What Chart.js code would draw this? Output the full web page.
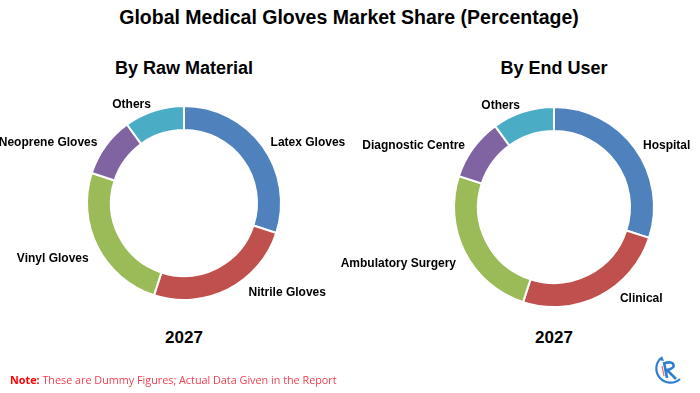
<!DOCTYPE html>
<html>
<head>
<meta charset="utf-8">
<script src="https://cdn.jsdelivr.net/npm/chart.js@4"></script>
<style>
  body { margin: 0; width: 700px; height: 393px; overflow: hidden; background: #fff; position: relative; font-family: "Liberation Sans", Arial, sans-serif; }
  .txt { position: absolute; font-weight: bold; color: #000; white-space: nowrap; transform: translate(-50%, -50%); font-size: 17px; }
  canvas { position: absolute; left: 0; top: 0; }
  #note { position: absolute; left: 10px; top: 372px; font-family: "Open Sans", sans-serif; font-size: 10.8px; color: #f0404f; white-space: nowrap; }
  #note b { color: #ff0000; }
  #logo { position: absolute; left: 650px; top: 352px; }
</style>
</head>
<body>
<div class="txt" style="left:349px; top:17px; font-size:19.5px;">Global Medical Gloves Market Share (Percentage)</div>
<div class="txt" style="left:184px; top:68px; font-size:18px;">By Raw Material</div>
<div class="txt" style="left:554px; top:68px; font-size:18px;">By End User</div>
<div class="txt" style="left:184px; top:338px;">2027</div>
<div class="txt" style="left:554px; top:338px;">2027</div>

<canvas id="chartMaterial" width="700" height="393"></canvas>
<canvas id="chartUser" width="700" height="393"></canvas>

<div id="note"><b>Note:</b> These are Dummy Figures; Actual Data Given in the Report</div>
<svg id="logo" width="36" height="36" viewBox="0 0 36 36">
  <path d="M11 6 A14 14 0 1 0 30 27" fill="none" stroke="#2f7fd0" stroke-width="2.2"/>
  <path d="M9 8 L12 4 L14 9" fill="#2f7fd0"/>
  <path d="M14 10 L17 26 M15 11 C24 8 28 16 17 18 L26 27" fill="none" stroke="#2f7fd0" stroke-width="2.6"/>
  <path d="M12 14 L14 24" fill="none" stroke="#e8676a" stroke-width="1.2"/>
</svg>

<script>
const materialLabels = ['Latex Gloves', 'Nitrile Gloves', 'Vinyl Gloves', 'Neoprene Gloves', 'Others'];
const materialValues = [30, 25, 25, 10, 10];

const userLabels = ['Hospital', 'Clinical', 'Ambulatory Surgery', 'Diagnostic Centre', 'Others'];
const userValues = [30, 25, 25, 10, 10];

const sliceColors = ['#4F81BD', '#C0504D', '#9BBB59', '#8064A2', '#4BACC6'];

// etiquetas fuera de cada porción
const outsideLabels = {
  id: 'outsideLabels',
  afterDatasetsDraw(chart) {
    const ctx = chart.ctx;
    const meta = chart.getDatasetMeta(0);
    ctx.save();
    ctx.font = 'bold 12px "Liberation Sans", Arial, sans-serif';
    ctx.fillStyle = '#000';
    ctx.textBaseline = 'middle';
    meta.data.forEach((arc, i) => {
      const mid = (arc.startAngle + arc.endAngle) / 2;
      const r = arc.outerRadius + 10;
      const c = Math.cos(mid), s = Math.sin(mid);
      let x = arc.x + c * r;
      let y = arc.y + s * r + 3;
      if (s > 0.7) { x += 16 * Math.sign(c); y -= 9; }
      else if (s > 0.3) { y += 4; }
      ctx.textAlign = c >= 0 ? 'left' : 'right';
      ctx.fillText(chart.data.labels[i], x, y);
    });
    ctx.restore();
  }
};

function createDoughnut(id, labels, values, radius, inner, padding) {
  const ctx = document.getElementById(id).getContext('2d');
  return new Chart(ctx, {
    type: 'doughnut',
    data: {
      labels: labels,
      datasets: [{
        data: values,
        backgroundColor: sliceColors,
        borderColor: '#ffffff',
        borderWidth: 2
      }]
    },
    options: {
      responsive: false,
      animation: false,
      radius: radius,
      cutout: (inner / radius * 100) + '%',
      layout: { padding: padding },
      plugins: {
        legend: { display: false },
        tooltip: { enabled: false }
      }
    },
    plugins: [outsideLabels]
  });
}

createDoughnut('chartMaterial', materialLabels, materialValues, 97, 73,
  { left: 64, right: 396, top: 83, bottom: 70 });
createDoughnut('chartUser', userLabels, userValues, 100, 76,
  { left: 434, right: 26, top: 87, bottom: 66 });
</script>
</body>
</html>
